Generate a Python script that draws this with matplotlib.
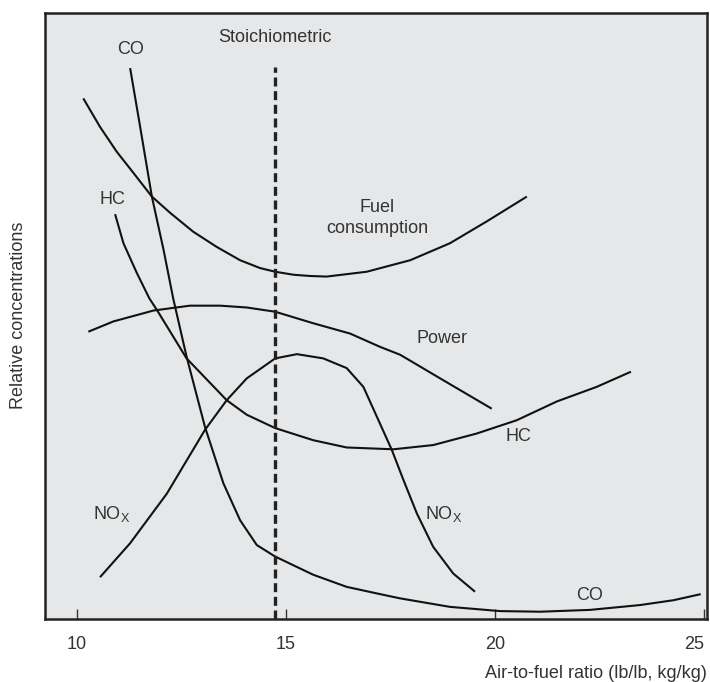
import matplotlib
matplotlib.use("Agg")
import matplotlib.pyplot as plt

plt.rcParams['font.family'] = ['Liberation Sans', 'DejaVu Sans']
plt.rcParams['mathtext.fontset'] = 'custom'
plt.rcParams['mathtext.rm'] = 'Liberation Sans'
plt.rcParams['mathtext.it'] = 'Liberation Sans'

# curves (x = air-to-fuel ratio, y = relative level 0-100)
fuel_x = [10.15, 10.55, 10.95, 11.35, 11.79, 12.23, 12.78, 13.34, 13.90, 14.38, 14.74, 15.18,
          15.57, 15.97, 16.93, 17.97, 18.92, 19.80, 20.76]
fuel_y = [85.9, 81.2, 77.1, 73.6, 69.7, 67.0, 63.9, 61.4, 59.2, 57.9, 57.3, 56.8,
          56.6, 56.5, 57.3, 59.2, 62.0, 65.6, 69.7]

co_x = [11.27, 11.51, 11.79, 12.07, 12.30, 12.62, 13.06, 13.50, 13.90, 14.30, 14.74, 15.65,
        16.45, 17.25, 17.73, 18.92, 20.12, 21.08, 22.27, 23.47, 24.27, 24.92]
co_y = [90.9, 81.2, 69.7, 60.9, 52.9, 43.3, 31.7, 22.4, 16.3, 12.2, 10.3, 7.3,
        5.3, 4.1, 3.4, 2.0, 1.3, 1.2, 1.5, 2.3, 3.1, 4.1]

hc_x = [10.91, 11.11, 11.43, 11.73, 11.91, 12.62, 13.58, 14.06, 14.74, 15.65, 16.45, 17.57,
        18.52, 19.56, 20.52, 21.48, 22.43, 23.25]
hc_y = [66.8, 62.0, 57.1, 52.9, 51.0, 43.0, 36.1, 33.7, 31.5, 29.5, 28.3, 28.0,
        28.7, 30.6, 32.8, 35.9, 38.3, 40.8]

power_x = [10.27, 10.87, 11.83, 12.70, 13.42, 14.06, 14.74, 15.65, 16.53, 17.25, 17.73, 18.76, 19.92]
power_y = [47.4, 49.1, 50.9, 51.7, 51.7, 51.4, 50.7, 48.8, 47.1, 44.9, 43.6, 39.4, 34.7]

nox_x = [10.55, 11.27, 12.15, 13.06, 13.58, 14.06, 14.74, 15.26, 15.89, 16.45, 16.85, 17.21,
         17.53, 17.81, 18.13, 18.52, 19.00, 19.52]
nox_y = [6.9, 12.5, 20.7, 31.2, 36.1, 39.7, 43.0, 43.7, 43.0, 41.4, 38.3, 32.8,
         27.9, 22.9, 17.4, 11.9, 7.5, 4.5]

stoich = 14.74
xticks = [10, 15, 20, 25]

fig = plt.figure(figsize=(7.1, 6.82), dpi=100)
ax = fig.add_axes([0.0634, 0.0924, 0.9324, 0.8886])
ax.set_facecolor('#e6e7e8')

for xs, ys in [(fuel_x, fuel_y), (co_x, co_y), (hc_x, hc_y), (power_x, power_y), (nox_x, nox_y)]:
    ax.plot(xs, ys, color='#111111', lw=1.5, solid_joinstyle='round', solid_capstyle='butt')

ax.plot([stoich, stoich], [0, 91.1], color='#222222', lw=2.4, dashes=(2.7, 1.4))

txt = dict(color='#333333', fontsize=13, ha='center', va='center')
ax.text(stoich, 95.9, 'Stoichiometric', **txt)
ax.text(11.27, 93.9, 'CO', **txt)
ax.text(10.85, 69.3, 'HC', **txt)
ax.text(17.18, 66.2, 'Fuel\nconsumption', linespacing=1.3, **txt)
ax.text(18.72, 46.3, 'Power', **txt)
ax.text(20.57, 30.1, 'HC', **txt)
ax.text(10.84, 17.4, r'NO$_\mathrm{X}$', **txt)
ax.text(18.76, 17.4, r'NO$_\mathrm{X}$', **txt)
ax.text(22.27, 3.85, 'CO', **txt)

ax.set_xlim(9.234, 25.07)
ax.set_ylim(0, 100)
ax.set_xticks(xticks)
ax.set_xticklabels([str(t) for t in xticks], fontsize=13, color='#333333')
ax.get_xticklabels()[-1].set_ha('right')
ax.tick_params(axis='x', direction='in', length=7, width=1, pad=12, color='#333333')
ax.set_yticks([])
for s in ax.spines.values():
    s.set_linewidth(1.8)
    s.set_color('#222222')

fig.text(0.026, 0.537, 'Relative concentrations', rotation=90, ha='center', va='center',
         fontsize=13, color='#333333')
fig.text(0.9958, 0.013, 'Air-to-fuel ratio (lb/lb, kg/kg)', ha='right', va='center',
         fontsize=13, color='#333333')

fig.savefig('out.png', dpi=100)
